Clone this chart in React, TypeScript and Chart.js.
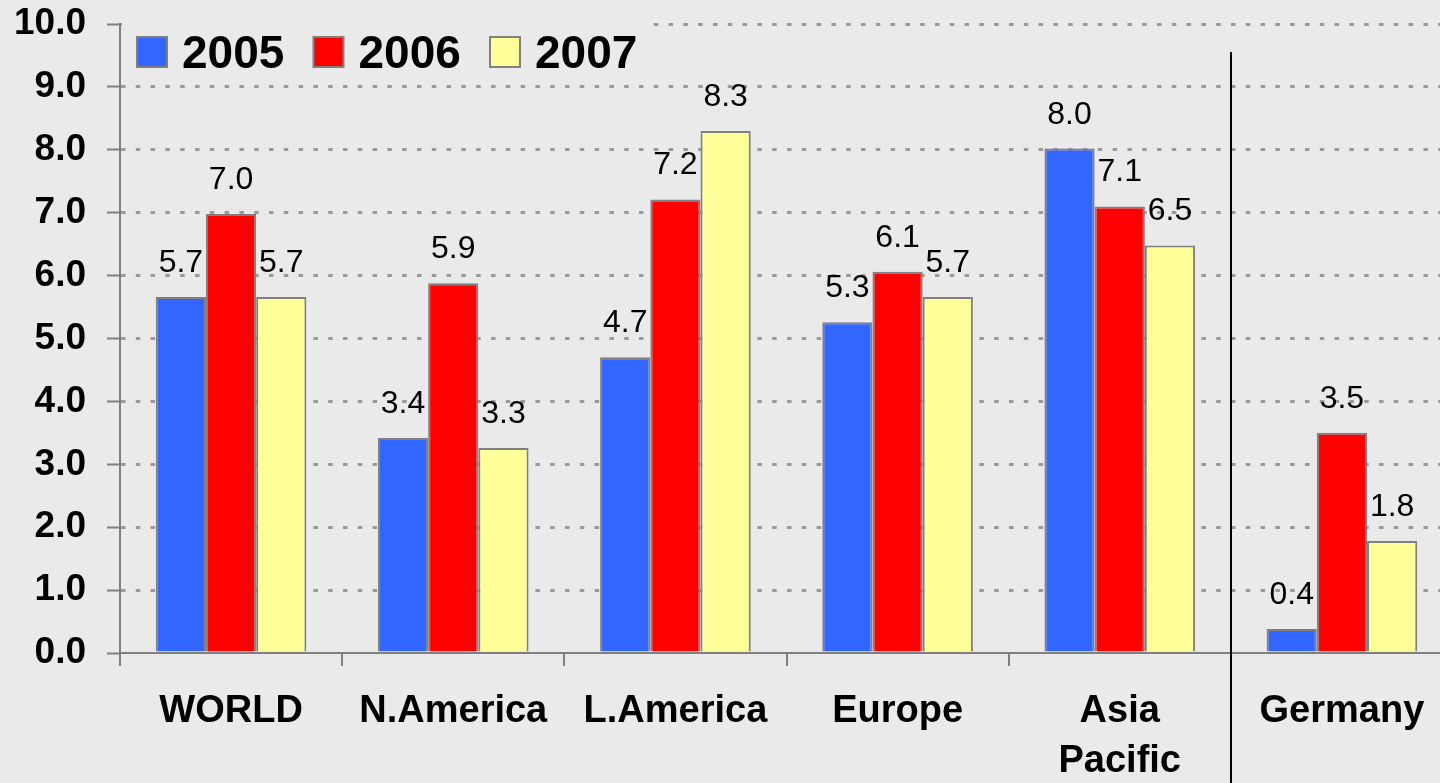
import React, { useEffect, useRef } from 'react';
import { Chart, registerables } from 'chart.js';

Chart.register(...registerables);

// ---------- data ----------
const categories: (string | string[])[] = ['WORLD', 'N.America', 'L.America', 'Europe', ['Asia', 'Pacific'], 'Germany'];
const seriesNames = ['2005', '2006', '2007'];
const values2005 = [5.66, 3.42, 4.7, 5.26, 8.02, 0.38];
const values2006 = [6.98, 5.88, 7.21, 6.06, 7.1, 3.5];
const values2007 = [5.66, 3.26, 8.3, 5.66, 6.48, 1.78];
const seriesColors = ['#3366FF', '#FF0000', '#FFFF99'];
const yMin = 0;
const yMax = 10;
const yStep = 1;
const separatorAfterIndex = 4; // line between "Asia Pacific" and "Germany"

// ---------- style ----------
const BG = '#EAEAEA';
const FONT = '"Liberation Sans", Arial, Helvetica, sans-serif';
const AXIS_GRAY = '#808080';
const GRID_GRAY = '#9A9A9A';

const bgPlugin = {
  id: 'bgFill',
  beforeDraw(chart: any) {
    const { ctx, width, height } = chart;
    ctx.save();
    ctx.fillStyle = BG;
    ctx.fillRect(0, 0, width, height);
    ctx.restore();
  },
};

const valueLabelPlugin = {
  id: 'valueLabels',
  afterDatasetsDraw(chart: any) {
    const { ctx } = chart;
    ctx.save();
    ctx.fillStyle = '#000';
    ctx.font = `32px ${FONT}`;
    ctx.textAlign = 'center';
    ctx.textBaseline = 'alphabetic';
    chart.data.datasets.forEach((ds: any, di: number) => {
      const meta = chart.getDatasetMeta(di);
      meta.data.forEach((bar: any, i: number) => {
        const v = ds.data[i] as number;
        ctx.fillText(v.toFixed(1), bar.x, bar.y - 25);
      });
    });
    ctx.restore();
  },
};

const overlayPlugin = {
  id: 'overlay',
  afterDraw(chart: any) {
    const { ctx, chartArea } = chart;
    ctx.save();
    // separator line
    const xs = chart.scales.x;
    const sx = Math.round(xs.getPixelForValue(separatorAfterIndex + 0.5));
    ctx.strokeStyle = '#000';
    ctx.lineWidth = 2;
    ctx.beginPath();
    ctx.moveTo(sx, 52);
    ctx.lineTo(sx, chart.height);
    ctx.stroke();

    // legend
    const left = chartArea.left;
    ctx.fillStyle = BG;
    ctx.fillRect(left + 2, 14, 530, 68);
    chart.data.datasets.forEach((ds: any, i: number) => {
      const x = left + 17 + i * 176.5;
      const y = 37;
      ctx.fillStyle = ds.backgroundColor;
      ctx.fillRect(x, y, 30, 30);
      ctx.strokeStyle = AXIS_GRAY;
      ctx.lineWidth = 2;
      ctx.strokeRect(x, y, 30, 30);
      ctx.fillStyle = '#000';
      ctx.font = `bold 46px ${FONT}`;
      ctx.textAlign = 'left';
      ctx.textBaseline = 'alphabetic';
      ctx.fillText(ds.label, x + 45, 68);
    });
    ctx.restore();
  },
};

export default function App() {
  const ref = useRef<HTMLCanvasElement>(null);

  useEffect(() => {
    document.body.style.margin = '0';
    document.body.style.background = BG;
    const allValues = [values2005, values2006, values2007];
    const chart = new Chart(ref.current as HTMLCanvasElement, {
      type: 'bar',
      data: {
        labels: categories as any,
        datasets: seriesNames.map((name, i) => ({
          label: name,
          data: allValues[i],
          backgroundColor: seriesColors[i],
          borderColor: AXIS_GRAY,
          borderWidth: 2,
          categoryPercentage: 0.678,
          barPercentage: 1,
        })),
      },
      options: {
        responsive: false,
        animation: false,
        devicePixelRatio: 1,
        layout: { padding: { top: 24, right: 7, left: 0, bottom: 0 } },
        plugins: {
          legend: { display: false },
          tooltip: { enabled: false },
        },
        scales: {
          x: {
            grid: {
              drawOnChartArea: false,
              drawTicks: true,
              tickLength: 13,
              color: AXIS_GRAY,
              tickColor: AXIS_GRAY,
              tickWidth: 2,
              lineWidth: 2,
            },
            border: { display: true, color: AXIS_GRAY, width: 2 },
            ticks: {
              color: '#000',
              padding: 21,
              maxRotation: 0,
              autoSkip: false,
              font: { family: FONT, size: 38, weight: 'bold', lineHeight: 1.3 },
            },
            afterFit(scale: any) {
              scale.height = 130;
            },
          },
          y: {
            min: yMin,
            max: yMax,
            grid: {
              color: (ctx: any) => (ctx.tick && ctx.tick.value === 0 ? 'rgba(0,0,0,0)' : GRID_GRAY),
              lineWidth: 3,
              drawTicks: true,
              tickLength: 13,
              tickColor: AXIS_GRAY,
              tickWidth: 2,
              tickBorderDash: [],
            },
            border: { display: true, color: AXIS_GRAY, width: 2, dash: [4.5, 10.3] },
            ticks: {
              stepSize: yStep,
              color: '#000',
              padding: 21,
              font: { family: FONT, size: 37, weight: 'bold' },
              callback: (v: any) => Number(v).toFixed(1),
            },
            afterFit(scale: any) {
              scale.width = 120;
              scale.paddingTop = 0;
              scale.paddingBottom = 0;
            },
          },
        },
      },
      plugins: [bgPlugin, valueLabelPlugin, overlayPlugin],
    } as any);
    return () => chart.destroy();
  }, []);

  return (
    <div
      style={{
        position: 'fixed',
        left: 0,
        top: 0,
        width: 1440,
        height: 783,
        overflow: 'hidden',
        background: BG,
      }}
    >
      <canvas ref={ref} width={1460} height={783} style={{ display: 'block', width: 1460, height: 783 }} />
    </div>
  );
}
